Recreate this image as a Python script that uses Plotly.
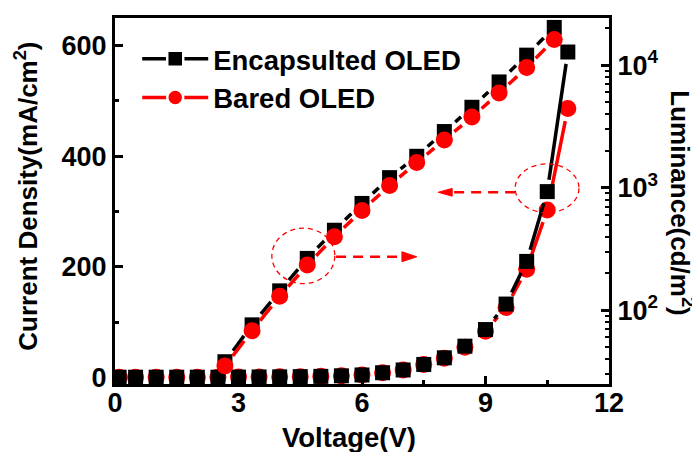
import numpy as np
import plotly.graph_objects as go

# ---------------- data ----------------
voltage_j = [0.1, 0.5, 1.0, 1.5, 2.0, 2.5, 3.0, 3.5, 4.0, 4.5, 5.0, 5.5,
             6.0, 6.5, 7.0, 7.5, 8.0, 8.5, 9.0, 9.5, 10.0, 10.5, 11.0]
j_encap = [1, 1, 1, 1, 1, 1, 1.2, 1.4, 1.6, 2, 2.5, 3.5,
           5, 9, 14, 24, 36, 57, 87, 133, 210, 336, 588]
j_bared = [1, 1, 1, 1, 1, 1, 1.2, 1.4, 1.6, 2, 2.5, 3.5,
           5, 9, 14, 24, 35, 55, 84, 127, 196, 303, 486]

voltage_l = [2.67, 3.33, 4.0, 4.67, 5.33, 6.0, 6.67, 7.33, 8.0, 8.67, 9.33, 10.0, 10.67]
lum_encap = [38, 76, 144, 265, 450, 745, 1210, 1807, 2878, 4540, 7310, 12100, 20370]
lum_bared = [35, 68, 130, 234, 399, 653, 1042, 1607, 2455, 3778, 5930, 9580, 16250]

series_names = ["Encapsulted OLED", "Bared OLED"]
x_tickvals = [0, 3, 6, 9, 12]
j_tickvals = [0, 200, 400, 600]
lum_tickvals = [100, 1000, 10000]
lum_ticktext = ["10<sup>2</sup>", "10<sup>3</sup>", "10<sup>4</sup>"]

# ---------------- layout constants ----------------
# the page body has an 8px margin, so the figure is 692x444 and sits at (8, 8)
W, H = 692, 444
ML, MR, MT, MB = 107, 91, 7, 68
PW, PH = W - ML - MR, H - MT - MB
XR = [0, 12]
YR = [-11.3, 649.4]
Y2R = [1.398, 4.386]
BLACK, RED = "#000000", "#ff0000"
FONT = "Liberation Sans, Arial, sans-serif"
SQ, CI = 15, 17
LW = 3.5


def to_px(x, y, log):
    px = (x - XR[0]) / (XR[1] - XR[0]) * PW
    if log:
        py = (np.log10(y) - Y2R[0]) / (Y2R[1] - Y2R[0]) * PH
    else:
        py = (y - YR[0]) / (YR[1] - YR[0]) * PH
    return px, py


def from_px(px, py, log):
    x = XR[0] + px / PW * (XR[1] - XR[0])
    if log:
        y = 10 ** (Y2R[0] + py / PH * (Y2R[1] - Y2R[0]))
    else:
        y = YR[0] + py / PH * (YR[1] - YR[0])
    return x, y


def sq_gap(ux, uy):
    return (SQ / 2) / max(abs(ux), abs(uy)) + 4.5


def ci_gap(ux, uy):
    return CI / 2 + 4.5


def gapped(xs, ys, log, gap_fn):
    ox, oy = [], []
    for i in range(len(xs) - 1):
        x0, y0 = to_px(xs[i], ys[i], log)
        x1, y1 = to_px(xs[i + 1], ys[i + 1], log)
        dx, dy = x1 - x0, y1 - y0
        d = float(np.hypot(dx, dy))
        if d == 0:
            continue
        ux, uy = dx / d, dy / d
        g = gap_fn(ux, uy)
        if d <= 2 * g + 1:
            continue
        a = from_px(x0 + ux * g, y0 + uy * g, log)
        b = from_px(x1 - ux * g, y1 - uy * g, log)
        ox += [a[0], b[0], None]
        oy += [a[1], b[1], None]
    return ox, oy


fig = go.Figure()

# ---- current density (left axis): red below, black on top ----
for xs, ys, col, sym, size, gf in [
    (voltage_j, j_bared, RED, "circle", CI, ci_gap),
    (voltage_j, j_encap, BLACK, "square", SQ, sq_gap),
]:
    lx, ly = gapped(xs, ys, False, gf)
    fig.add_trace(go.Scatter(x=lx, y=ly, mode="lines", line=dict(color=col, width=LW),
                             showlegend=False, hoverinfo="skip", yaxis="y"))
    fig.add_trace(go.Scatter(x=xs, y=ys, mode="markers",
                             marker=dict(symbol=sym, size=size, color=col, line=dict(width=0)),
                             showlegend=False, yaxis="y"))

# ---- luminance (right log axis): black below, red on top ----
for xs, ys, col, sym, size, gf in [
    (voltage_l, lum_encap, BLACK, "square", SQ, sq_gap),
    (voltage_l, lum_bared, RED, "circle", CI, ci_gap),
]:
    lx, ly = gapped(xs, ys, True, gf)
    fig.add_trace(go.Scatter(x=lx, y=ly, mode="lines", line=dict(color=col, width=LW),
                             showlegend=False, hoverinfo="skip", yaxis="y2"))
    fig.add_trace(go.Scatter(x=xs, y=ys, mode="markers",
                             marker=dict(symbol=sym, size=size, color=col, line=dict(width=0)),
                             showlegend=False, yaxis="y2"))

# ---- legend entries ----
for name, col, sym in [(series_names[0], BLACK, "square"), (series_names[1], RED, "circle")]:
    fig.add_trace(go.Scatter(x=[None], y=[None], mode="lines+markers", name=name,
                             line=dict(color=col, width=LW),
                             marker=dict(symbol=sym, size=16, color=col,
                                         line=dict(color="white", width=2.5)),
                             yaxis="y"))

# ---- annotation shapes (dashed circles + arrows) ----
shapes = [
    dict(type="circle", xref="x", yref="y", x0=3.81, x1=5.34, y0=170, y1=270,
         line=dict(color=RED, width=1.3, dash="5px,4px")),
    dict(type="circle", xref="x", yref="y", x0=9.72, x1=11.27, y0=298, y1=386,
         line=dict(color=RED, width=1.3, dash="5px,4px")),
    dict(type="line", xref="x", yref="y", x0=5.37, x1=6.97, y0=218.4, y1=218.4,
         line=dict(color=RED, width=2.5, dash="10px,7px")),
    dict(type="path", xref="x", yref="y",
         path="M 7.33,218.4 L 6.97,227.4 L 6.97,209.4 Z",
         fillcolor=RED, line=dict(color=RED, width=1)),
    dict(type="line", xref="x", yref="y", x0=9.72, x1=8.19, y0=334.8, y1=334.8,
         line=dict(color=RED, width=2.5, dash="10px,7px")),
    dict(type="path", xref="x", yref="y",
         path="M 7.85,334.8 L 8.19,341.8 L 8.19,327.8 Z",
         fillcolor=RED, line=dict(color=RED, width=1)),
]

hfont = dict(family=FONT, size=27.5, color="black", weight="bold")
vfont = dict(family=FONT, size=26, color="black", weight="bold")
annotations = [
    dict(text="Voltage(V)", xref="paper", yref="paper", x=0.473, y=-0.146,
         showarrow=False, font=hfont, xanchor="center", yanchor="middle"),
    dict(text="Current Density(mA/cm<sup>2</sup>)", xref="paper", yref="paper",
         x=-0.178, y=0.512, textangle=-90, showarrow=False, font=vfont,
         xanchor="center", yanchor="middle"),
    dict(text="Luminance(cd/m<sup>2</sup>)", xref="paper", yref="paper",
         x=1.146, y=0.496, textangle=90, showarrow=False, font=vfont,
         xanchor="center", yanchor="middle"),
]

tick_font = dict(family=FONT, size=27, color="black", weight="bold")
fig.update_layout(
    width=W, height=H,
    margin=dict(l=ML, r=MR, t=MT, b=MB),
    paper_bgcolor="white", plot_bgcolor="white",
    font=dict(family=FONT, size=26, color="black", weight="bold"),
    showlegend=True,
    legend=dict(x=0.045, y=0.955, xanchor="left", yanchor="top",
                bgcolor="rgba(0,0,0,0)", borderwidth=0,
                font=hfont, itemwidth=66, tracegroupgap=0),
    xaxis=dict(range=XR, tickmode="array", tickvals=x_tickvals,
               ticks="inside", ticklen=8, tickwidth=2.5, tickcolor="black",
               ticklabelstandoff=-7,
               showline=True, linewidth=3, linecolor="black", mirror=True,
               showgrid=False, zeroline=False, tickfont=tick_font,
               minor=dict(ticks="inside", ticklen=4, tickwidth=2.5, dtick=1.5,
                          tick0=0, showgrid=False, tickcolor="black")),
    yaxis=dict(range=YR, tickmode="array", tickvals=j_tickvals,
               ticks="inside", ticklen=8, tickwidth=2.5, tickcolor="black",
               showline=True, linewidth=3, linecolor="black",
               showgrid=False, zeroline=False, tickfont=tick_font,
               minor=dict(ticks="inside", ticklen=4, tickwidth=2.5, dtick=100,
                          tick0=0, showgrid=False, tickcolor="black")),
    yaxis2=dict(type="log", range=Y2R, overlaying="y", side="right",
                tickmode="array", tickvals=lum_tickvals, ticktext=lum_ticktext,
                ticks="inside", ticklen=8, tickwidth=2.5, tickcolor="black",
                showline=True, linewidth=3, linecolor="black",
                showgrid=False, zeroline=False, tickfont=tick_font,
                minor=dict(ticks="inside", ticklen=4, tickwidth=2,
                           tickvals=[m * 10 ** e for e in (1, 2, 3) for m in range(2, 10)] + [20000],
                           showgrid=False, tickcolor="black")),
    shapes=shapes,
    annotations=annotations,
)

fig.write_html("out.html")
